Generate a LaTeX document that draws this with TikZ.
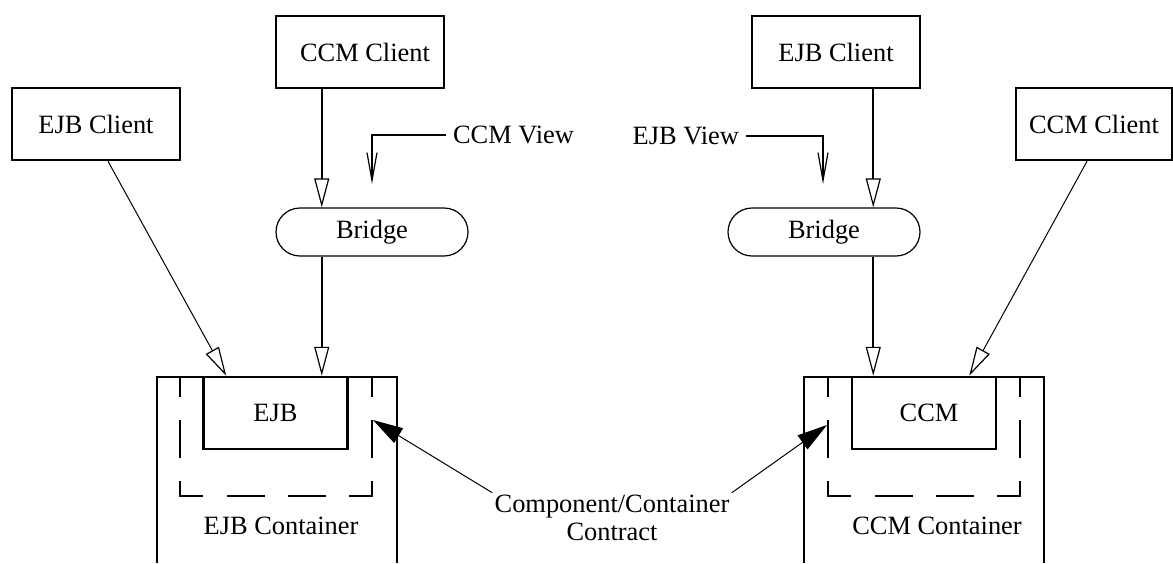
\documentclass[tikz,border=0pt]{standalone}
\usepackage{fontspec}
\setmainfont{Liberation Serif}
\usetikzlibrary{arrows.meta,positioning}

\begin{document}
\begin{tikzpicture}[x=0.5pt,y=-0.5pt,line join=miter,
                    every text node part/.style={align=center},
                    font=\fontsize{13.2}{14}\selectfont]
  \tikzstyle{client}=[draw=black,line width=1.25pt,minimum width=84pt,minimum height=36pt,inner sep=0pt]
  \tikzstyle{bridge}=[draw=black,line width=0.6pt,rounded corners=12pt,minimum width=96pt,minimum height=24pt,inner sep=0pt]
  \tikzstyle{comp}=[draw=black,line width=1.25pt,minimum width=72pt,minimum height=36pt,inner sep=0pt]
  \tikzstyle{wall}=[line width=1.25pt]
  \tikzstyle{inner wall}=[line width=1.25pt,dash pattern=on 19pt off 11.6pt,dash phase=9pt]
  \tikzstyle{uses}=[line width=1pt,-{Triangle[open,length=14.5pt,width=7.5pt,line width=0.6pt]}]
  \tikzstyle{uses thin}=[line width=0.5pt,-{Triangle[open,length=14.5pt,width=7.5pt,line width=0.6pt]}]
  \tikzstyle{view}=[line width=1pt,-{Straight Barb[length=14pt,width=5pt,line width=0.6pt]}]
  \tikzstyle{contract}=[line width=0.5pt,-{Triangle[length=15pt,width=8.5pt]}]

  \useasboundingbox (0,0) rectangle (1173,563);

  % left side
  \draw[wall] (157,563) -- (157,377) -- (397,377) -- (397,563);
  \draw[inner wall] (180,377) -- (180,496) -- (372,496) -- (372,377);
  \node[comp] (ejb) at (275.5,413) {EJB};
  \node (ejbcont) at (281,526) {EJB Container};

  \node[client] (ccmclientL) at (360,52) {\hspace*{5pt}CCM Client};
  \node[client] (ejbclientL) at (96,124) {EJB Client};
  \node[bridge] (bridgeL) at (372,232) {Bridge};
  \node (ccmview) [anchor=west] at (446,135) {CCM View};
  \coordinate (viewL) at (372,184);
  \coordinate (busL) at ([xshift=23.5pt]ccmclientL.south west);

  % right side
  \draw[wall] (804,563) -- (804,377) -- (1044,377) -- (1044,563);
  \draw[inner wall] (828,377) -- (828,496) -- (1020,496) -- (1020,377);
  \node[comp] (ccm) at (924,413) {\hspace*{5pt}CCM};
  \node (ccmcont) at (937,526) {CCM Container};

  \node[client] (ejbclientR) at (836,52) {EJB Client};
  \node[client,minimum width=78pt] (ccmclientR) at (1094,124) {CCM Client};
  \node[bridge] (bridgeR) at (824,232) {Bridge};
  \node (ejbview) [anchor=east] at (746,136) {EJB View};
  \coordinate (viewR) at (823,184);
  \coordinate (busR) at ([xshift=-24pt]ejbclientR.south east);

  % contract
  \node[inner sep=1pt] (contract) at (612,518) {Component/Container\\Contract};
  \coordinate (tipL) at (373,420);
  \coordinate (tipR) at (827,425);

  \path (busL) edge [uses] (busL |- bridgeL.north)
        (busL |- bridgeL.south) edge [uses] (busL |- ejb.north)
        ([xshift=6pt]ejbclientL.south)    edge [uses thin] ([xshift=12pt]ejb.north west)
        (busR) edge [uses] (busR |- bridgeR.north)
        (busR |- bridgeR.south) edge [uses] (busR |- ccm.north)
        ([xshift=-3.5pt]ccmclientR.south) edge [uses thin] ([xshift=-14pt]ccm.north east)
        (contract.north west) edge [contract] (tipL)
        (contract.north east) edge [contract] (tipR);
  \draw[view] (ccmview.west) -| (viewL);
  \draw[view] (ejbview.east) -| (viewR);
\end{tikzpicture}
\end{document}
